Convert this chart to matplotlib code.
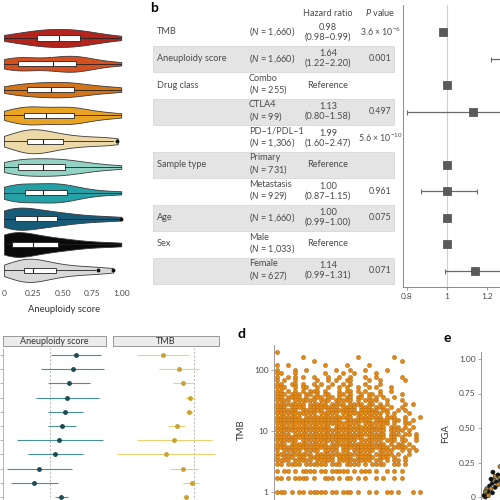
import matplotlib
matplotlib.use('Agg')
import matplotlib.pyplot as plt
from matplotlib.patches import Rectangle
from matplotlib.ticker import NullLocator
import numpy as np

plt.rcParams['font.family'] = ['Lato', 'DejaVu Sans']
plt.rcParams['mathtext.fontset'] = 'custom'
plt.rcParams['mathtext.rm'] = 'Lato'
plt.rcParams['mathtext.it'] = 'Lato:italic'
plt.rcParams['mathtext.default'] = 'regular'

# ---- panel a: aneuploidy score per cancer type (top to bottom) ----
violin_colors = ['#b3241c', '#d4501e', '#d47418', '#eaa423', '#ecd9a7',
                 '#93d3c5', '#24a1a6', '#165c78', '#0a0a0a', '#d9d9d9']
violin_samples = [
    [0.0, 0.06, 0.12, 0.18, 0.22, 0.26, 0.29, 0.32, 0.35, 0.38, 0.41, 0.44, 0.47,
     0.5, 0.53, 0.56, 0.59, 0.62, 0.65, 0.68, 0.72, 0.76, 0.82, 0.9, 1.0],
    [0.0, 0.04, 0.07, 0.09, 0.11, 0.13, 0.16, 0.2, 0.26, 0.32, 0.38, 0.42, 0.46,
     0.5, 0.53, 0.56, 0.58, 0.6, 0.62, 0.64, 0.67, 0.71, 0.78, 0.88, 1.0],
    [0.0, 0.05, 0.1, 0.14, 0.18, 0.21, 0.24, 0.28, 0.32, 0.36, 0.39, 0.42, 0.45,
     0.48, 0.51, 0.54, 0.57, 0.6, 0.63, 0.67, 0.72, 0.78, 0.86, 0.95, 1.0],
    [0.0, 0.06, 0.1, 0.14, 0.17, 0.19, 0.21, 0.23, 0.26, 0.3, 0.35, 0.4, 0.45,
     0.49, 0.52, 0.55, 0.57, 0.59, 0.62, 0.66, 0.72, 0.8, 0.9, 1.0],
    [0.0, 0.06, 0.11, 0.15, 0.18, 0.2, 0.22, 0.24, 0.26, 0.28, 0.31, 0.34, 0.38,
     0.42, 0.47, 0.52, 0.58, 0.65, 0.73, 0.82, 0.9, 0.97],
    [0.0, 0.04, 0.08, 0.12, 0.16, 0.2, 0.24, 0.28, 0.32, 0.36, 0.4, 0.44, 0.48,
     0.52, 0.56, 0.6, 0.66, 0.74, 0.84, 1.0],
    [0.0, 0.04, 0.07, 0.1, 0.13, 0.16, 0.2, 0.25, 0.3, 0.35, 0.39, 0.42, 0.45,
     0.48, 0.51, 0.55, 0.6, 0.68, 0.8, 1.0],
    [0.0, 0.02, 0.04, 0.06, 0.08, 0.1, 0.12, 0.15, 0.18, 0.22, 0.26, 0.3, 0.34,
     0.38, 0.43, 0.48, 0.54, 0.62, 0.72, 0.85, 1.0],
    [0.0, 0.01, 0.02, 0.04, 0.05, 0.07, 0.09, 0.11, 0.14, 0.17, 0.2, 0.24, 0.28,
     0.32, 0.37, 0.42, 0.47, 0.53, 0.6, 0.7, 0.85, 1.0],
    [0.0, 0.05, 0.1, 0.13, 0.16, 0.18, 0.2, 0.22, 0.24, 0.27, 0.3, 0.34, 0.38,
     0.43, 0.48, 0.55, 0.63, 0.72, 0.8, 0.93],
]
box_q1 = [0.28, 0.12, 0.20, 0.17, 0.20, 0.12, 0.18, 0.09, 0.07, 0.17]
box_med = [0.47, 0.42, 0.40, 0.36, 0.33, 0.33, 0.33, 0.28, 0.25, 0.25]
box_q3 = [0.65, 0.61, 0.60, 0.60, 0.50, 0.52, 0.54, 0.45, 0.46, 0.44]
whisk_lo = [0.0] * 10
whisk_hi = [1.0, 1.0, 1.0, 1.0, 0.93, 1.0, 1.0, 0.97, 1.0, 0.78]
box_fliers = [[], [], [], [], [0.96], [], [], [1.0], [], [0.80, 0.93]]
violin_widths = [0.7, 0.62, 0.6, 0.7, 0.93, 0.68, 0.75, 0.86, 0.96, 0.9]

# ---- panel b: multivariable Cox model ----
b_var = ['TMB', 'Aneuploidy score', 'Drug class', '', '', 'Sample type', '', 'Age', 'Sex', '']
b_group = ['', '', 'Combo', 'CTLA4', 'PD\u20131/PDL\u20131', 'Primary', 'Metastasis', '', 'Male', 'Female']
b_n = ['1,660', '1,660', '255', '99', '1,306', '731', '929', '1,660', '1,033', '627']
b_ref = [False, False, True, False, False, True, False, False, True, False]
b_hr = [0.98, 1.64, 1.0, 1.13, 1.99, 1.0, 1.00, 1.00, 1.0, 1.14]
b_lo = [0.98, 1.22, np.nan, 0.80, 1.60, np.nan, 0.87, 0.99, np.nan, 0.99]
b_hi = [0.99, 2.20, np.nan, 1.58, 2.47, np.nan, 1.15, 1.00, np.nan, 1.31]
b_p = ['3.6 \u00d7 10$^{\u22126}$', '0.001', '', '0.497', '5.6 \u00d7 10$^{\u221210}$',
       '', '0.961', '0.075', '', '0.071']

# ---- panel c: per cancer type hazard ratios (log scale, 0 = no effect) ----
c_an_est = [0.65, 0.58, 0.48, 0.43, 0.38, 0.30, 0.23, 0.13, -0.28, -0.40, 0.28]
c_an_lo = [0.03, -0.23, -0.05, -0.35, -0.05, -0.05, -0.83, -0.55, -1.08, -0.98, 0.13]
c_an_hi = [1.28, 1.35, 1.00, 1.23, 0.83, 0.65, 1.33, 0.83, 0.55, 0.20, 0.45]
c_tmb_est = [-0.78, -0.38, -0.28, -0.10, -0.13, -0.43, -0.50, -0.70, -0.28, -0.05, -0.20]
c_tmb_lo = [-1.43, -0.88, -0.53, -0.23, -0.20, -0.65, -1.43, -1.93, -0.60, -0.28, -0.28]
c_tmb_hi = [-0.13, 0.13, 0.00, 0.03, -0.03, -0.23, 0.45, 0.53, 0.10, 0.13, -0.15]

# ---- panel d: TMB vs aneuploidy score (rows = TMB values, columns = altered arms / 39) ----
d_levels = [200, 165, 140, 120, 100, 88, 77, 68, 60, 53, 46, 41, 36, 32, 28, 25, 22,
            19.5, 17, 15, 13.3, 11.7, 10.3, 9, 8, 7, 6.2, 5.4, 4.8, 4.2, 3.7, 3.3,
            2.9, 2.2, 1.7, 1]
d_map = [
    "#.......................................",
    ".......#..............#.........#.......",
    "..........#.......................#.....",
    "#..#.........#.....#.....#..............",
    "#....#..#.......#...#...#.....#.........",
    "##...#.......#....#..#.....#............",
    "#..#.#.#..#...#..#..#...#..#......#.....",
    "#.#..#.....#..#.#..##....#..#......#....",
    "##..##.#..#.#..#..#.#...#...#...........",
    "###..#.##..#..#..#.#..#..#.#...#........",
    "##.#.#.#.###.#...#.##.#.#...#..#........",
    "###.###.##.#.##..##.#..#.##.#.....#.....",
    "##.####.#.###.##.#.##.##.#.#.#..#.......",
    "####.######.###.#####.#.####..#...#.....",
    "########.#####.####.####.##.#.#....#.#..",
    "###.####.########.####.###.###.#..#.....",
    "######.######.########.#####.##..#.#....",
    "###########.#####.###########.#.#...#...",
    "#######.#############.#######.###..#...#",
    "##################.#######.####.##.#.#..",
    "#######################.#######.#..##...",
    "###############.##############.###.#.#..",
    "##############################.####.#...",
    "####.#########################.###.##.#.",
    "########################.#####.##.#...#.",
    "######.###############.######.###.##..#.",
    "###.##########.###############.#.##.#...",
    "#################.#############.####.#..",
    "#.#####.####.####.##.######.####..#.#.#.",
    "##########.###############.#####.#..#...",
    "#.###.##.#######.####.#####.###.#..#....",
    "####.#####.#####.#########.##.#.##.#....",
    "##.####.######.###.####.#.####..##.#....",
    "#.##.#.####.##.#####.#.###.#..#.#.#.....",
    "##.#.####.#..###.#.##.#.#..#.#..#.#.....",
    "###.#.##.#####.##.###.#..#.#..##.#...#.#",
]
d_n_arms = 39

# ---- panel e: FGA vs aneuploidy score ----
e_x = [0.01, 0.02, 0.03, 0.02, 0.04, 0.05, 0.06, 0.07, 0.05, 0.08, 0.09,
       0.10, 0.11, 0.03, 0.06, 0.08, 0.10, 0.12, 0.064, 0.115, 0.0, 0.01]
e_y = [0.0, 0.02, 0.04, 0.06, 0.08, 0.06, 0.10, 0.12, 0.13, 0.15, 0.11,
       0.16, 0.14, 0.01, 0.03, 0.07, 0.09, 0.12, 0.18, 0.22, 0.01, 0.04]
e_col = ['#111111', '#c9821f', '#111111', '#8a7a3a', '#111111', '#c9821f', '#111111',
         '#8a7a3a', '#111111', '#c9821f', '#111111', '#111111', '#8a7a3a', '#c9821f',
         '#111111', '#111111', '#c9821f', '#111111', '#111111', '#c9821f', '#111111', '#8a7a3a']

TXT = '#4a4a4a'
fig = plt.figure(figsize=(5, 5), dpi=100)
W = H = 500.0


def px_axes(x0, y0, x1, y1):
    return fig.add_axes([x0 / W, 1 - y1 / H, (x1 - x0) / W, (y1 - y0) / H])


# overlay in pixel coordinates for table, strips and panel letters
ax0 = px_axes(0, 0, 500, 500)
ax0.set_xlim(0, 500)
ax0.set_ylim(500, 0)
ax0.axis('off')

# ---- a ----
ax_a = px_axes(0, 0, 140, 284)
pos = np.arange(len(violin_samples))
parts = ax_a.violinplot(violin_samples, positions=pos, orientation='horizontal',
                        widths=violin_widths, showextrema=False, bw_method=0.5)
for body, col in zip(parts['bodies'], violin_colors):
    body.set_facecolor(col)
    body.set_edgecolor('#3a3a3a')
    body.set_linewidth(0.6)
    body.set_alpha(1)
stats = [dict(med=m, q1=a, q3=b, whislo=lo, whishi=hi, fliers=f)
         for m, a, b, lo, hi, f in zip(box_med, box_q1, box_q3, whisk_lo, whisk_hi, box_fliers)]
ax_a.bxp(stats, positions=pos, orientation='horizontal', widths=0.2, patch_artist=True,
         showcaps=False,
         boxprops=dict(facecolor='white', edgecolor='#222222', linewidth=0.6),
         medianprops=dict(color='#222222', linewidth=0.8),
         whiskerprops=dict(color='#222222', linewidth=0.6),
         flierprops=dict(marker='o', markersize=1.8, markerfacecolor='#111111',
                         markeredgecolor='#111111'))
ax_a.set_ylim(9.53, -1.47)
ax_a.set_xlim(-0.034, 1.16)
ax_a.set_xticks([0, 0.25, 0.5, 0.75, 1.0])
ax_a.set_xticklabels(['0', '0.25', '0.50', '0.75', '1.00'])
ax_a.set_yticks([])
for s in ax_a.spines.values():
    s.set_visible(False)
ax_a.tick_params(axis='x', length=0, pad=4, labelsize=6, labelcolor=TXT)
ax_a.set_xlabel('Aneuploidy score', fontsize=6.8, color='#333333')
ax_a.xaxis.set_label_coords(64 / 140, -0.075)
ax_a.patch.set_alpha(0)

# ---- b: table ----
FS = 6.6
ax0.text(150, 8, 'b', fontsize=10, fontweight='bold', va='center', ha='left')
ax0.text(328, 13, 'Hazard ratio', fontsize=FS, color=TXT, ha='center', va='center')
ax0.text(380, 13, '$\\mathit{P}$ value', fontsize=FS, color=TXT, ha='center', va='center')
for k in range(len(b_var)):
    yc = 32 + 26.5 * k
    if k % 2 == 1:
        ax0.add_patch(Rectangle((153, yc - 13), 241, 26.5, facecolor='#e4e4e4',
                                edgecolor='#d2d2d2', linewidth=0.5, zorder=0))
    ax0.text(157, yc, b_var[k], fontsize=FS, color=TXT, va='center', ha='left')
    ntxt = '($\\mathit{N}$ = %s)' % b_n[k]
    if b_group[k]:
        ntxt = b_group[k] + '\n' + ntxt
    ax0.text(249, yc, ntxt, fontsize=FS, color=TXT, va='center', ha='left', linespacing=1.05)
    if b_ref[k]:
        hrtxt = 'Reference'
    else:
        hrtxt = '%.2f\n(%.2f\u2013%.2f)' % (b_hr[k], b_lo[k], b_hi[k])
    ax0.text(328, yc, hrtxt, fontsize=FS, color=TXT, va='center', ha='center',
             multialignment='center', linespacing=1.05)
    ax0.text(380, yc, b_p[k], fontsize=6.3, color=TXT, va='center', ha='center')

ax_f = px_axes(403, 5, 520, 287)
rows = np.arange(len(b_hr))
hr = np.array(b_hr)
err = np.array([hr - np.array(b_lo), np.array(b_hi) - hr])
ax_f.errorbar(hr, rows, xerr=err, fmt='none', ecolor='#6a6a6a', elinewidth=0.9,
              capsize=1.8, capthick=0.8)
ax_f.plot(hr, rows, 's', ms=5.6, mfc='#5a5a5a', mec='#4a4a4a', mew=0.5)
ax_f.axvline(1, color='#cfcfcf', lw=0.8, zorder=0)
ax_f.set_ylim(9.62, -1.02)
ax_f.set_xlim(0.78, 1.365)
ax_f.set_xticks([0.8, 1.0, 1.2])
ax_f.set_xticklabels(['0.8', '1', '1.2'])
ax_f.set_yticks([])
for s in ['top', 'right']:
    ax_f.spines[s].set_visible(False)
for s in ['left', 'bottom']:
    ax_f.spines[s].set_color('#777777')
    ax_f.spines[s].set_linewidth(0.6)
ax_f.tick_params(axis='x', length=2, width=0.5, color='#777777', pad=2,
                 labelsize=6, labelcolor=TXT)

# ---- c: faceted forest plots ----
for x0, x1, lab in [(3, 106, 'Aneuploidy score'), (113, 219, 'TMB')]:
    ax0.add_patch(Rectangle((x0, 336), x1 - x0, 10, facecolor='#ececec',
                            edgecolor='#8a8a8a', linewidth=0.6))
    ax0.text((x0 + x1) / 2, 341, lab, fontsize=6.5, color='#333333', ha='center', va='center')

crow = np.arange(len(c_an_est))
facets = [((3, 106, 50), c_an_est, c_an_lo, c_an_hi, '#4b8f96', '#1d4a55'),
          ((113, 219, 194), c_tmb_est, c_tmb_lo, c_tmb_hi, '#efd070', '#c9a233')]
for i, ((x0, x1, xz), est, lo, hi, lc, pc) in enumerate(facets):
    ax = px_axes(x0, 348, x1, 560)
    ax.hlines(crow, lo, hi, color=lc, lw=0.8)
    ax.plot(est, crow, 'o', ms=2.5, mfc=pc, mec=pc)
    ax.axvline(0, color='#b5b5b5', lw=0.7, ls=(0, (2, 2)), zorder=0)
    ax.set_xlim((x0 - xz) / 40, (x1 - xz) / 40)
    ax.set_ylim((560 - 355) / 14.2, (348 - 355) / 14.2)
    ax.set_xticks([])
    for s in ['top', 'right', 'bottom']:
        ax.spines[s].set_visible(False)
    if i == 0:
        ax.spines['left'].set_color('#999999')
        ax.spines['left'].set_linewidth(0.5)
        ax.set_yticks(crow)
        ax.set_yticklabels([])
        ax.tick_params(axis='y', length=2, width=0.5, color='#999999')
    else:
        ax.spines['left'].set_visible(False)
        ax.set_yticks([])
    ax.patch.set_alpha(0)

# ---- d ----
ax0.text(242, 334, 'd', fontsize=10, fontweight='bold', va='center', ha='center')
d_x, d_y = [], []
for lev, row in zip(d_levels, d_map):
    for k, ch in enumerate(row):
        if ch == '#':
            d_x.append(k / d_n_arms)
            d_y.append(lev)
ax_d = px_axes(274, 345, 432, 515)
ax_d.scatter(d_x, d_y, s=9, c='#e08a1a', edgecolors='#b8690e', linewidths=0.35)
ax_d.set_yscale('log')
ax_d.set_ylim(10 ** (-(515 - 492) / 61), 10 ** ((492 - 345) / 61))
ax_d.set_xlim(-0.021, 1.084)
ax_d.set_yticks([1, 10, 100])
ax_d.set_yticklabels(['1', '10', '100'])
ax_d.yaxis.set_minor_locator(NullLocator())
ax_d.set_xticks([])
for s in ['top', 'right', 'bottom']:
    ax_d.spines[s].set_visible(False)
ax_d.spines['left'].set_color('#888888')
ax_d.spines['left'].set_linewidth(0.6)
ax_d.tick_params(axis='y', length=2, width=0.5, color='#888888', pad=2,
                 labelsize=6, labelcolor=TXT)
ax_d.set_ylabel('TMB', fontsize=6.8, color='#333333', labelpad=6)
ax0.text(277, 360, '$\\mathit{R}$ = 0.063, $\\mathit{P}$ = 0.041', fontsize=6.2,
         color=TXT, ha='left', va='center')

# ---- e ----
ax0.text(447, 338, 'e', fontsize=10, fontweight='bold', va='center', ha='center')
ax_e = px_axes(481, 352, 650, 515)
ax_e.scatter(e_x, e_y, s=9, c=e_col, edgecolors='#222222', linewidths=0.4)
ax_e.set_ylim(-(515 - 497) / 138, (497 - 352) / 138)
ax_e.set_xlim((481 - 484) / 140, (650 - 484) / 140)
ax_e.set_yticks([0, 0.25, 0.5, 0.75, 1.0])
ax_e.set_yticklabels(['0', '0.25', '0.50', '0.75', '1.00'])
ax_e.set_xticks([])
for s in ['top', 'right', 'bottom']:
    ax_e.spines[s].set_visible(False)
ax_e.spines['left'].set_color('#888888')
ax_e.spines['left'].set_linewidth(0.6)
ax_e.tick_params(axis='y', length=2, width=0.5, color='#888888', pad=2,
                 labelsize=6, labelcolor=TXT)
ax_e.set_ylabel('FGA', fontsize=6.8, color='#333333', labelpad=6)
ax0.text(484, 364, '$\\mathit{R}$ = 0.91', fontsize=6.2, color=TXT, ha='left', va='center')

fig.savefig('out.png', dpi=100)
